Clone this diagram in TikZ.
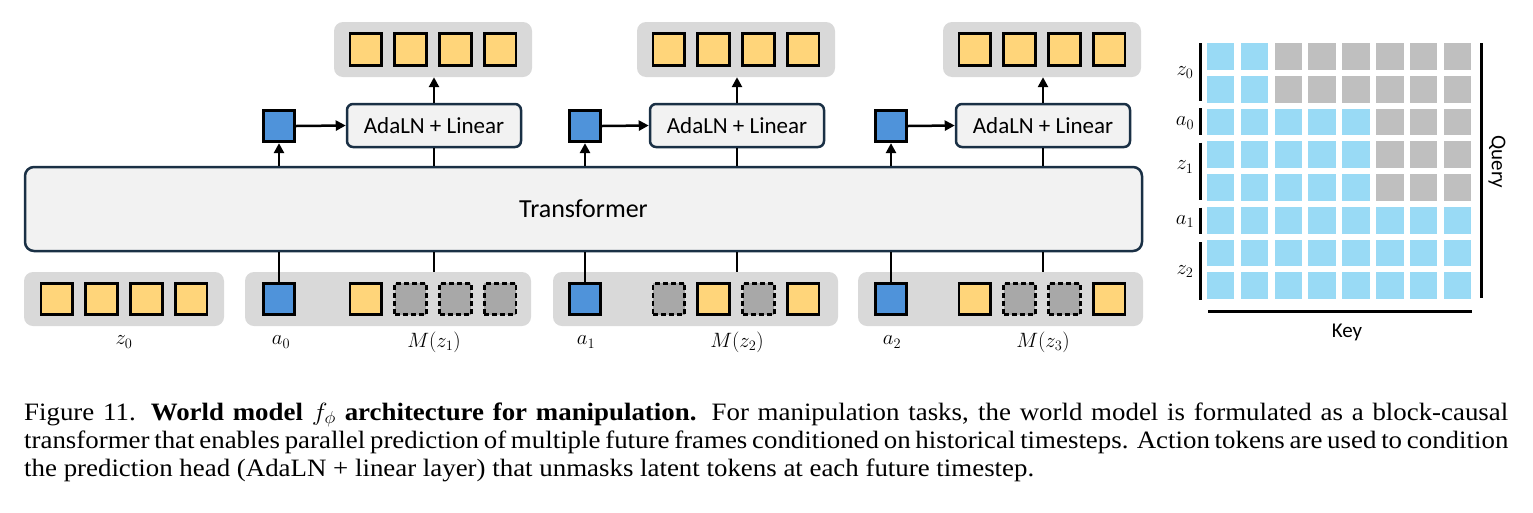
\documentclass[tikz,border=0pt]{standalone}
\usepackage{fontspec}
\usepackage{graphicx}
\setmainfont{Liberation Serif}
\newfontfamily\calib{Carlito}
\usetikzlibrary{arrows.meta}
\definecolor{tokyellow}{HTML}{FFD57A}
\definecolor{tokblue}{HTML}{4F93DA}
\definecolor{tokgray}{HTML}{A8A8A8}
\definecolor{grpgray}{HTML}{D9D9D9}
\definecolor{boxfill}{HTML}{F2F2F2}
\definecolor{boxborder}{HTML}{1A3045}
\definecolor{attblue}{HTML}{99DAF5}
\definecolor{attgray}{HTML}{BFBFBF}
\tikzset{
  tok/.style={draw=black, line width=2.8pt, minimum width=31.5pt, minimum height=31.5pt, inner sep=0pt},
  ytok/.style={tok, fill=tokyellow},
  btok/.style={tok, fill=tokblue},
  mtok/.style={tok, fill=tokgray, dash pattern=on 5pt off 3pt},
  grp/.style={fill=grpgray, draw=none, rounded corners=9pt, inner sep=0pt},
  headbox/.style={draw=boxborder, fill=boxfill, line width=2.5pt, rounded corners=6pt, inner sep=0pt, minimum width=174pt, minimum height=43pt, font=\calib\fontsize{23}{26}\selectfont},
  arr/.style={-{Triangle[length=10pt,width=10pt]}, line width=2.5pt},
  conn/.style={line width=2.5pt},
  lbl/.style={inner sep=0pt, font=\fontsize{21.5}{24}\selectfont},
  mlbl/.style={inner sep=0pt, font=\fontsize{19.5}{22}\selectfont},
  captext/.style={anchor=base west, inner sep=0pt, font=\fontsize{25}{28}\selectfont},
}
\begin{document}
\begin{tikzpicture}[x=1pt,y=-1pt]
\useasboundingbox (0,0) rectangle (1533,512);

% transformer
\node[draw=boxborder, fill=boxfill, line width=2.5pt, rounded corners=9pt, minimum width=1117pt, minimum height=84pt, inner sep=0pt, font=\calib\fontsize{26}{30}\selectfont] (tr) at (583.5,209) {Transformer};

% top output groups
\foreach \g/\c in {1/433, 2/736, 3/1042} {
  \node[grp, minimum width=198pt, minimum height=55pt] (tg\g) at (\c,49.5) {};
  \foreach \k/\d in {1/-67.2, 2/-22.4, 3/22.4, 4/67.2}
    \node[ytok] (ty\g\k) at (\c+\d,49.5) {};
  \node[headbox] (ada\g) at (\c+1,125.5) {AdaLN + Linear};
}

% top action tokens
\node[btok] (ta1) at (279,126) {};
\node[btok] (ta2) at (585,126) {};
\node[btok] (ta3) at (891,126) {};

% bottom groups
\node[grp, minimum width=200pt, minimum height=54pt] (bg0) at (124,299) {};
\node[grp, minimum width=286pt, minimum height=54pt] (bg1) at (388,299) {};
\node[grp, minimum width=285pt, minimum height=54pt] (bg2) at (695.5,299) {};
\node[grp, minimum width=285pt, minimum height=54pt] (bg3) at (1000.5,299) {};

\foreach \k/\d in {1/-67.2, 2/-22.4, 3/22.4, 4/67.2}
  \node[ytok] (z0\k) at (124+\d,299) {};

\node[btok] (ba1) at (279,299) {};
\node[btok] (ba2) at (585,299) {};
\node[btok] (ba3) at (891,299) {};

% M(z1)
\node[ytok] (m11) at (433-67.2,299) {};
\node[mtok] (m12) at (433-22.4,299) {};
\node[mtok] (m13) at (433+22.4,299) {};
\node[mtok] (m14) at (433+67.2,299) {};
% M(z2)
\node[mtok] (m21) at (736-67.2,299) {};
\node[ytok] (m22) at (736-22.4,299) {};
\node[mtok] (m23) at (736+22.4,299) {};
\node[ytok] (m24) at (736+67.2,299) {};
% M(z3)
\node[ytok] (m31) at (1042-67.2,299) {};
\node[mtok] (m32) at (1042-22.4,299) {};
\node[mtok] (m33) at (1042+22.4,299) {};
\node[ytok] (m34) at (1042+67.2,299) {};

% connectors
\foreach \g in {1,2,3} {
  \draw[arr] (ta\g |- tr.north) -- (ta\g.south);
  \draw[arr] (ta\g.east) -- (ada\g.west);
  \draw[arr] (ada\g.north) -- (ada\g |- tg\g.south);
  \draw[conn] (ada\g.south) -- (ada\g |- tr.north);
  \draw[conn] (ba\g.north) -- (ba\g |- tr.south);
  \draw[conn] (ada\g |- bg\g.north) -- (ada\g |- tr.south);
}

% labels
\node[lbl] (lz0) at (124,342) {$z_0$};
\node[lbl] (la0) at (281,342) {$a_0$};
\node[lbl] (lm1) at (434,342) {$M(z_1)$};
\node[lbl] (la1) at (586,342) {$a_1$};
\node[lbl] (lm2) at (737,342) {$M(z_2)$};
\node[lbl] (la2) at (892,342) {$a_2$};
\node[lbl] (lm3) at (1043,342) {$M(z_3)$};

% attention mask
\foreach \j in {0,...,7} {
  \foreach \i in {0,...,7} {
    \fill[attblue] (1206.7+\i*33.9,43.3+\j*32.7) rectangle ++(27.3,26.7);
  }
}
\foreach \j in {0,1} {
  \foreach \i in {2,...,7} {
    \fill[attgray] (1206.7+\i*33.9,43.3+\j*32.7) rectangle ++(27.3,26.7);
  }
}
\foreach \j in {2,3,4} {
  \foreach \i in {5,6,7} {
    \fill[attgray] (1206.7+\i*33.9,43.3+\j*32.7) rectangle ++(27.3,26.7);
  }
}
\draw[line width=3pt] (1200.7,43.3) -- (1200.7,100.7);
\draw[line width=3pt] (1200.7,108.3) -- (1200.7,135);
\draw[line width=3pt] (1200.7,142.7) -- (1200.7,200);
\draw[line width=3pt] (1200.7,207.7) -- (1200.7,234);
\draw[line width=3pt] (1200.7,242.3) -- (1200.7,300);
\node[mlbl] (qz0) at (1185,72.7) {$z_0$};
\node[mlbl] (qa0) at (1185,123) {$a_0$};
\node[mlbl] (qz1) at (1185,167) {$z_1$};
\node[mlbl] (qa1) at (1185,221.5) {$a_1$};
\node[mlbl] (qz2) at (1185,271.5) {$z_2$};
\draw[line width=3pt] (1481.7,43.3) -- (1481.7,298.3);
\draw[line width=3pt] (1208.3,311.7) -- (1471.7,311.7);
\node[inner sep=0pt, rotate=-90, font=\calib\fontsize{21}{24}\selectfont] (query) at (1497,162) {Query};
\node[inner sep=0pt, font=\calib\fontsize{21}{24}\selectfont] (key) at (1347,332) {Key};

% caption
\node[captext] (cap1) at (24,420) {\scalebox{1.075}[1]{\makebox[1380.5pt][s]{Figure 11. \textbf{World model $f_\phi$ architecture for manipulation.} For manipulation tasks, the world model is formulated as a block-causal}}};
\node[captext] (cap2) at (24,448) {\scalebox{1.075}[1]{\makebox[1380.5pt][s]{transformer that enables parallel prediction of multiple future frames conditioned on historical timesteps. Action tokens are used to condition}}};
\node[captext] (cap3) at (24,476) {\scalebox{1.075}[1]{the prediction head (AdaLN + linear layer) that unmasks latent tokens at each future timestep.}};
\end{tikzpicture}
\end{document}
